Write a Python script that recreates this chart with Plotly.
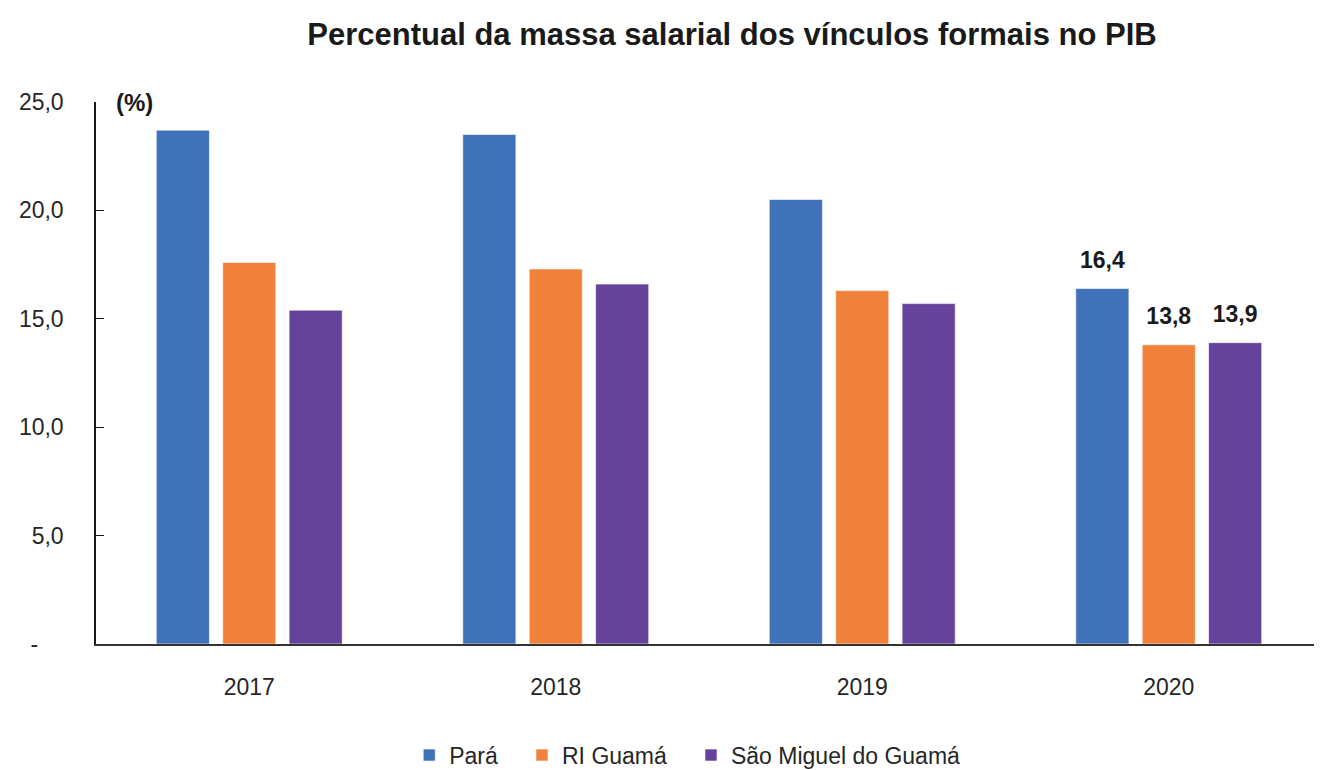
import plotly.graph_objects as go

# dados
anos = ["2017", "2018", "2019", "2020"]
para = [23.7, 23.5, 20.5, 16.4]
ri_guama = [17.6, 17.3, 16.3, 13.8]
sao_miguel = [15.4, 16.6, 15.7, 13.9]
series_nomes = ["Pará", "RI Guamá", "São Miguel do Guamá"]
cores = ["#3F72B9", "#F0823C", "#65439A"]
y_ticks = [0, 5, 10, 15, 20, 25]
y_ticktext = ["-\u00a0\u00a0\u00a0\u00a0", "5,0", "10,0", "15,0", "20,0", "25,0"]

fonte = "Liberation Sans, Arial, sans-serif"


def rotulos(vals):
    # so o ultimo ano leva rotulo
    return [("" if i < len(vals) - 1 else f"{v:.1f}".replace(".", ",")) for i, v in enumerate(vals)]


fig = go.Figure()
for i, (nome, vals, cor) in enumerate(zip(series_nomes, [para, ri_guama, sao_miguel], cores)):
    fig.add_trace(go.Bar(
        x=anos, y=vals, name=nome + "\u00a0\u00a0\u00a0", offsetgroup=str(i),
        marker=dict(color=cor, line=dict(color="rgba(255,255,255,0.6)", width=1)),
    ))
# rotulos do ultimo ano, um pouco acima das barras
for i, vals in enumerate([para, ri_guama, sao_miguel]):
    fig.add_trace(go.Scatter(
        x=anos, y=vals, offsetgroup=str(i), mode="text+markers", showlegend=False,
        marker=dict(size=22, color="rgba(0,0,0,0)"),
        text=rotulos(vals), textposition="top center", cliponaxis=False,
        textfont=dict(family=fonte, size=23, color="#1a1a1a", weight="bold"),
        hoverinfo="skip",
    ))

# a pagina tem 8px de margem no body, por isso 1314x762
fig.update_layout(
    width=1314, height=762,
    margin=dict(l=88, r=0, t=94, b=126, autoexpand=False),
    paper_bgcolor="white", plot_bgcolor="white",
    barmode="group", bargap=0.35, bargroupgap=0.2,
    scattermode="group", scattergap=0.35,
    font=dict(family=fonte, size=23, color="#262626"),
    title=dict(text="<b>Percentual da massa salarial dos vínculos formais no PIB</b>",
               x=0.551, xanchor="center", y=0.966, yanchor="middle",
               font=dict(family=fonte, size=31, color="#1a1a1a")),
    showlegend=True,
    legend=dict(orientation="h", x=0.49, xanchor="center", y=-0.205, yanchor="middle",
                font=dict(family=fonte, size=23, color="#262626"),
                itemwidth=30, tracegroupgap=0),
    annotations=[dict(text="<b>(%)</b>", x=0, y=25, xref="paper", yref="y",
                      xshift=18, xanchor="left", yanchor="middle", showarrow=False,
                      font=dict(family=fonte, size=24, color="#1a1a1a"))],
)

fig.update_yaxes(range=[0, 25], tickvals=y_ticks, ticktext=y_ticktext,
                 showgrid=False, zeroline=False, automargin=False,
                 showline=True, linecolor="#1a1a1a", linewidth=1.5,
                 ticks="inside", ticklen=8, tickcolor="#1a1a1a",
                 ticklabelstandoff=26)
fig.update_xaxes(showgrid=False, showline=True, linecolor="#333333", linewidth=1.5,
                 ticks="", ticklabelstandoff=22, automargin=False)

fig.write_html("out.html")
